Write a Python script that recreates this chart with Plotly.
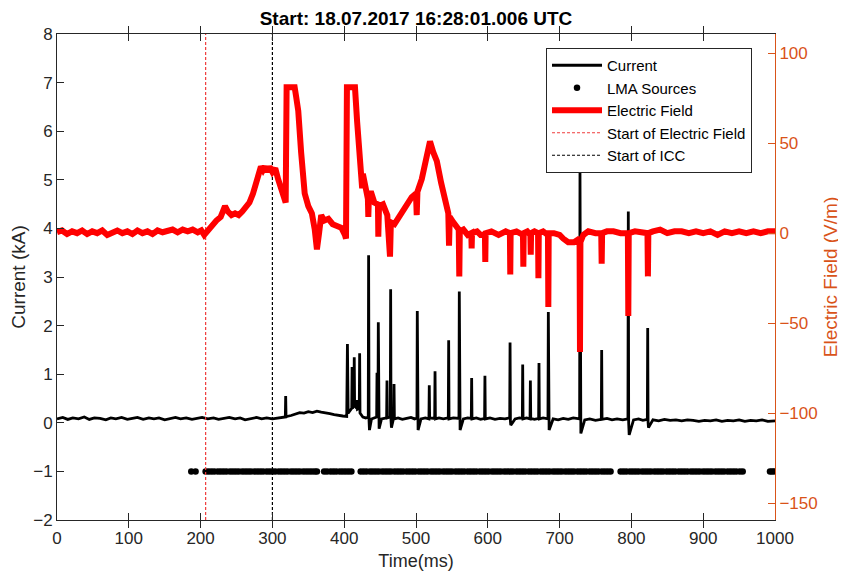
import plotly.graph_objects as go

# ---------------- data ----------------
# Current (kA) vs time (ms)
cur_t = [0, 8, 15, 22, 30, 38, 45, 52, 60, 68, 75, 82, 90, 98, 105, 112, 120, 128, 135, 142,
         150, 158, 165, 172, 180, 188, 195, 202, 210, 218, 225, 232, 240, 248, 255, 262, 270,
         278, 285, 292, 300, 308, 315, 318, 318.5, 319, 320, 326, 332, 338, 344, 350, 356, 362,
         368, 374, 380, 386, 392, 398, 403.5, 404.5, 405.5, 408, 410.5, 411, 411.5, 413.5, 414,
         414.5, 417.5, 418, 418.5, 421, 421.5, 422, 426, 430, 433.5, 434, 434.6, 435.2, 438,
         442, 445.2, 445.7, 446.2, 447, 447.5, 448, 448.6, 452, 456, 459.1, 459.6, 460.1, 464.2,
         464.7, 465.2, 465.8, 468.9, 469.4, 469.9, 475, 481, 487, 493, 498, 501.3, 501.8, 502.3,
         502.9, 507, 513, 518, 518.5, 519, 526, 526.5, 527, 532, 538, 545, 545.5, 546, 552, 559.8,
         560.3, 560.8, 561.4, 566, 572, 577, 577.5, 578, 584, 590, 595.5, 596, 596.5, 603, 610,
         617, 624, 630.5, 631, 631.5, 632, 638, 644, 648.1, 648.6, 649.1, 654, 658.8, 659.3,
         659.8, 665, 670.8, 671.3, 671.8, 677, 683.8, 684.3, 684.8, 685.4, 691, 698, 705, 712,
         719, 727.9, 728.4, 728.9, 729.6, 735, 742, 750, 758.1, 758.6, 759.1, 766, 773, 780, 788,
         795.2, 795.7, 796.2, 796.9, 803, 810, 816, 822.2, 822.7, 823.2, 823.8, 830, 838, 846,
         854, 862, 870, 878, 886, 894, 902, 910, 918, 926, 934, 942, 950, 958, 966, 974, 982,
         990, 1000]
cur_v = [0.08, 0.11, 0.07, 0.10, 0.08, 0.12, 0.07, 0.10, 0.09, 0.06, 0.10, 0.08, 0.11, 0.07,
         0.09, 0.11, 0.07, 0.10, 0.08, 0.10, 0.06, 0.09, 0.11, 0.08, 0.10, 0.07, 0.09, 0.11, 0.08,
         0.10, 0.07, 0.09, 0.11, 0.08, 0.10, 0.06, 0.09, 0.11, 0.08, 0.10, 0.08, 0.10, 0.11, 0.12,
         0.55, 0.12, 0.13, 0.15, 0.18, 0.21, 0.20, 0.23, 0.21, 0.24, 0.22, 0.21, 0.19, 0.17, 0.15,
         0.14, 0.13, 1.62, 0.20, 0.25, 0.30, 1.15, 0.30, 0.35, 1.35, 0.35, 0.30, 0.47, 0.28, 0.30,
         1.43, 0.20, 0.12, 0.10, 0.12, 3.45, 0.05, -0.15, 0.08, 0.10, 0.12, 1.03, 0.15, 0.15,
         2.07, 0.05, -0.12, 0.08, 0.10, 0.10, 0.87, 0.10, 0.12, 2.75, 0.05, -0.10, 0.10, 0.80,
         0.08, 0.10, 0.07, 0.09, 0.11, 0.08, 0.10, 2.30, 0.02, -0.15, 0.08, 0.10, 0.08, 0.77,
         0.10, 0.09, 1.06, 0.08, 0.10, 0.08, 0.10, 1.70, 0.08, 0.10, 0.09, 2.70, 0.02, -0.15,
         0.08, 0.10, 0.09, 0.92, 0.08, 0.10, 0.07, 0.09, 0.97, 0.08, 0.10, 0.07, 0.09, 0.08,
         0.10, 1.65, 0.03, -0.05, 0.08, 0.10, 0.09, 1.20, 0.08, 0.10, 0.08, 0.87, 0.09, 0.07,
         0.09, 1.23, 0.08, 0.10, 0.08, 2.28, 0.02, -0.15, 0.08, 0.06, 0.09, 0.07, 0.10, 0.08,
         5.15, 0.00, -0.22, 0.06, 0.08, 0.05, 0.07, 1.50, 0.07, 0.09, 0.06, 0.08, 0.06, 0.08,
         4.35, 0.00, -0.25, 0.06, 0.08, 0.05, 0.07, 1.95, 0.02, -0.10, 0.06, 0.04, 0.07, 0.05,
         0.06, 0.04, 0.06, 0.05, 0.03, 0.05, 0.04, 0.06, 0.03, 0.05, 0.04, 0.06, 0.03, 0.05,
         0.04, 0.06, 0.03, 0.04, 0.03]

# LMA source times (ms), plotted at -1 kA
lma_t = [187, 193,
         207, 211, 215, 219, 224, 228, 232, 236, 241, 245, 249, 253, 258, 262, 266, 270, 275, 279,
         283, 287, 292, 296, 300, 304, 309, 313, 317, 321, 326, 330, 334, 338, 343, 347, 351, 355,
         359, 362,
         372, 376, 381, 385, 389, 394, 398, 402, 406, 410,
         423, 427, 431, 436, 440, 444, 448, 453, 457, 461, 465, 470, 474, 478, 482, 487, 491, 495,
         499, 504, 508, 512, 516, 521, 525, 529, 533, 538, 542, 546, 550, 555, 559, 563, 567, 572,
         576, 580, 584, 589, 593, 597, 601, 606, 610, 614, 618, 623, 627, 631, 635, 640, 644, 648,
         652, 657, 661, 665, 669, 674, 678, 682, 686, 691, 695, 699, 703, 708, 712, 716, 720, 725,
         729, 733, 737, 742, 746, 750, 754, 759, 763, 767, 771,
         785, 789, 793, 798, 802, 806, 810, 815, 819, 823, 827, 832, 836, 840, 844, 849, 853, 857,
         861, 866, 870, 874, 878, 883, 887, 891, 895, 900, 904, 908, 912, 917, 921, 925, 929, 934,
         938, 942, 946, 951, 955,
         993, 996, 999]
lma_level = -1

# Electric field (V/m) vs time (ms)
ef_t = [0, 7, 14, 21, 28, 35, 42, 49, 56, 63, 70, 77, 84, 91, 98, 105, 112, 119, 126, 133, 140,
        147, 154, 161, 168, 175, 182, 189, 196, 201, 205, 210, 216, 222, 228, 234, 238, 243, 248,
        253, 258, 263, 268, 273, 277, 281, 284, 287, 290, 293, 296, 300, 304, 308, 313, 317, 318.5,
        319.8, 331, 333, 336, 340, 345, 350, 355, 359, 362, 365, 368, 372, 378, 384, 390, 396,
        401, 402.5, 403.8, 415, 418, 422, 424, 425, 426, 430, 433, 433.6, 434.5, 438, 442, 447,
        447.5, 448.5, 454, 460, 463.8, 465, 470, 476, 482, 488, 494, 500, 501, 502, 508, 514,
        519.5, 524, 529, 535, 540, 545, 546, 547, 552, 556, 559.5, 560.3, 561, 566, 572, 577,
        577.5, 578, 585, 590, 596, 596.5, 597, 605, 615, 625, 630.8, 631.3, 631.8, 640, 649,
        649.5, 650, 655, 659.3, 659.8, 660.3, 665, 670, 670.5, 671, 677, 683.8, 684.3, 684.8,
        692, 700, 705, 712, 720, 727.8, 728.4, 729, 733, 740, 750, 758, 758.6, 759.2, 766, 775,
        785, 795.1, 795.7, 796.3, 805, 815, 822.4, 823, 823.6, 830, 840, 850, 860, 870, 880,
        890, 900, 910, 920, 930, 940, 950, 960, 970, 980, 990, 1000]
ef_v = [0.5, 1.5, -0.5, 1.0, 0.0, 1.5, -0.5, 1.0, 0.0, 1.5, -1.0, 0.5, 1.5, 0.0, 1.0, -0.5,
        1.5, 0.0, 1.0, -0.5, 1.5, 0.5, 1.0, 2.0, 0.5, 2.0, 1.0, 2.0, 0.5, 1.5, -1.0, 1.5, 4.0,
        7.0, 9.0, 15.0, 12.0, 10.0, 11.0, 10.0, 12.0, 14.0, 17.0, 22.0, 27.0, 33.0, 37.0, 35.0,
        37.0, 34.0, 37.0, 34.0, 36.0, 30.0, 24.0, 18.0, 17.0, 81.0, 81.0, 76.0, 68.0, 45.0,
        22.0, 15.0, 11.0, 2.0, -9.0, 0.0, 10.0, 7.0, 8.0, 5.0, 4.0, 3.0, -1.0, -3.0, 81.0, 81.0,
        62.0, 38.0, 32.0, 25.0, 33.0, 26.0, 19.0, 9.0, 22.0, 22.0, 17.0, 16.0, -2.0, 15.0, 16.0,
        10.0, -13.0, 6.0, 5.0, 9.0, 12.0, 16.0, 20.0, 22.0, 10.0, 23.0, 30.0, 43.0, 51.0, 45.0,
        40.0, 28.0, 18.0, 11.0, -7.0, 9.0, 6.0, 3.0, 2.0, -24.0, 1.0, 2.0, -1.0, 0.0, -8.5, 0.0,
        1.0, -1.0, -1.0, -16.0, 0.0, 1.0, -1.0, 1.0, 0.0, -23.0, 0.0, 1.0, -1.0, -18.7, 0.0, 1.0,
        -1.0, -12.0, 0.0, 1.0, 0.0, -25.0, 0.0, 1.0, -1.0, -41.0, 0.0, 0.0, -1.0, -3.0, -5.0,
        -5.0, -3.0, -66.0, -5.0, -1.0, 1.0, 0.0, 0.0, -17.0, 0.0, 1.0, 1.0, 0.0, 0.0, -46.0,
        0.0, 1.0, 0.0, 0.0, -24.0, 0.0, 1.0, 2.0, 0.0, 1.0, 1.0, 0.0, 1.0, 0.0, 1.0, -1.0, 1.0,
        0.0, 1.0, 0.0, 1.0, 0.0, 1.0, 1.0]

start_efield_ms = 207
start_icc_ms = 300

title_text = "Start: 18.07.2017 16:28:01.006 UTC"
x_ticks = [0, 100, 200, 300, 400, 500, 600, 700, 800, 900, 1000]
y_ticks = [-2, -1, 0, 1, 2, 3, 4, 5, 6, 7, 8]
y2_ticks = [-150, -100, -50, 0, 50, 100]

# ---------------- styling ----------------
FONT = "Liberation Sans, Arial, sans-serif"
ORANGE = "#D95319"
AXC = "#262626"
OFF = 8  # the page body adds an 8 px margin; the figure is sized to compensate
W, H = 846 - OFF, 572 - OFF

fig = go.Figure()
fig.add_trace(go.Scatter(x=cur_t, y=cur_v, mode="lines", name="Current",
                         line=dict(color="black", width=2.8)))
fig.add_trace(go.Scatter(x=lma_t, y=[lma_level] * len(lma_t), mode="markers",
                         name="LMA Sources",
                         marker=dict(color="black", size=6.5)))
fig.add_trace(go.Scatter(x=ef_t, y=ef_v, mode="lines", name="Electric Field",
                         line=dict(color="#FF0000", width=6), yaxis="y2"))
fig.add_trace(go.Scatter(x=[start_efield_ms, start_efield_ms], y=[-2, 8], mode="lines",
                         name="Start of Electric Field",
                         line=dict(color="#F03C3C", width=1.2, dash="3px,2px")))
fig.add_trace(go.Scatter(x=[start_icc_ms, start_icc_ms], y=[-2, 8], mode="lines",
                         name="Start of ICC",
                         line=dict(color="black", width=1.2, dash="3px,2px")))

fig.update_layout(
    width=W, height=H,
    margin=dict(l=57 - OFF, r=71, t=34 - OFF, b=52, autoexpand=False),
    paper_bgcolor="white", plot_bgcolor="white",
    font=dict(family=FONT, size=17, color=AXC),
    title=dict(text="<b>" + title_text + "</b>", x=(416 - OFF) / W, xanchor="center",
               y=1 - (18 - OFF) / H, yanchor="middle",
               font=dict(family=FONT, size=19, color="black")),
    showlegend=True,
    legend=dict(x=(546 - 57) / 718, y=1 - 14 / 486, xanchor="left", yanchor="top",
                bgcolor="white", bordercolor="#262626", borderwidth=1,
                font=dict(family=FONT, size=15, color="black"),
                tracegroupgap=0, itemwidth=50),
    xaxis=dict(range=[0, 1000], tickvals=x_ticks, ticks="inside", ticklen=7,
               tickcolor=AXC, showline=True, linecolor=AXC, linewidth=1,
               mirror="allticks", showgrid=False, zeroline=False, automargin=False,
               ticklabelstandoff=3,
               title=dict(text="Time(ms)", font=dict(size=18, color=AXC), standoff=6),
               tickfont=dict(size=17, color=AXC)),
    yaxis=dict(range=[-2, 8], tickvals=y_ticks, ticks="inside", ticklen=7,
               tickcolor=AXC, showline=True, linecolor=AXC, linewidth=1,
               showgrid=False, zeroline=False, automargin=False,
               title=dict(text="Current (kA)", font=dict(size=19, color=AXC), standoff=4),
               tickfont=dict(size=17, color=AXC)),
    yaxis2=dict(range=[-159.35, 110.65], tickvals=y2_ticks, overlaying="y", side="right",
                anchor="x", ticks="inside", ticklen=7, tickcolor=ORANGE,
                showline=True, linecolor=ORANGE, linewidth=1, showgrid=False,
                zeroline=False, automargin=False,
                title=dict(text="Electric Field (V/m)", font=dict(size=19, color=ORANGE),
                           standoff=7),
                tickfont=dict(size=17, color=ORANGE)),
)

fig.write_html("out.html")
